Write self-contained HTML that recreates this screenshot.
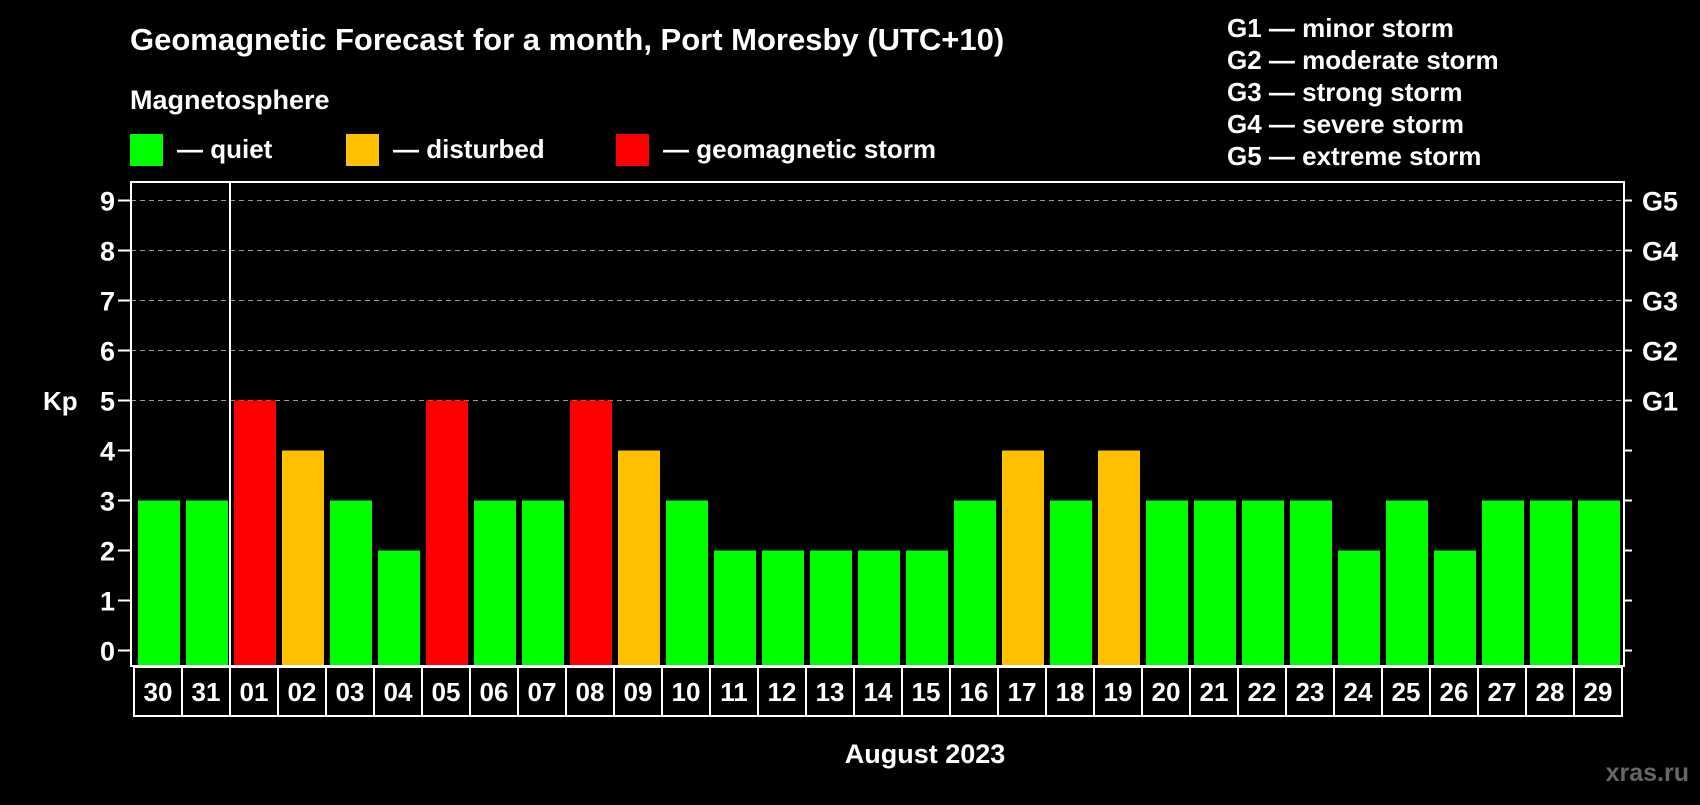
<!DOCTYPE html>
<html><head><meta charset="utf-8"><style>
body{margin:0;background:#000;width:1700px;height:800px;overflow:hidden;font-family:"Liberation Sans",sans-serif}
</style></head><body>
<svg width="1700" height="800" xmlns="http://www.w3.org/2000/svg" font-family="Liberation Sans, sans-serif" font-weight="bold" fill="#fff">
<text x="130" y="50" font-size="31">Geomagnetic Forecast for a month, Port Moresby (UTC+10)</text>
<text x="130" y="109" font-size="27">Magnetosphere</text>
<rect x="130" y="134" width="33" height="32" fill="#00ff00"/>
<text x="177" y="158" font-size="26">— quiet</text>
<rect x="346" y="134" width="33" height="32" fill="#ffc000"/>
<text x="393" y="158" font-size="26">— disturbed</text>
<rect x="616" y="134" width="33" height="32" fill="#ff0000"/>
<text x="663" y="158" font-size="26">— geomagnetic storm</text>
<g font-size="26">
<text x="1227" y="37">G1 — minor storm</text>
<text x="1227" y="69">G2 — moderate storm</text>
<text x="1227" y="101">G3 — strong storm</text>
<text x="1227" y="133">G4 — severe storm</text>
<text x="1227" y="165">G5 — extreme storm</text>
</g>
<g id="grid"></g><g id="bars"></g><g id="axes"></g>
<text x="43" y="410" font-size="26">Kp</text>
<text x="925" y="763" font-size="27" text-anchor="middle">August 2023</text>
<text x="1689" y="781" font-size="25" text-anchor="end" fill="#666">xras.ru</text>
</svg>
<script>
const days=["30","31","01","02","03","04","05","06","07","08","09","10","11","12","13","14","15","16","17","18","19","20","21","22","23","24","25","26","27","28","29"];
const kp=[3,3,5,4,3,2,5,3,3,5,4,3,2,2,2,2,2,3,4,3,4,3,3,3,3,2,3,2,3,3,3];
const yTicks=[0,1,2,3,4,5,6,7,8,9];
const gLabels=["","","","","","G1","G2","G3","G4","G5"];
const NS="http://www.w3.org/2000/svg";
const L=131,R=1624,T=182,B=666,x0=134,pitch=48,bw=42;
const y=v=>650.5-v*50;
const xs=i=>x0+i*pitch;
function mk(tag,a,parent,txt){const e=document.createElementNS(NS,tag);for(const k in a)e.setAttribute(k,a[k]);if(txt!==undefined)e.textContent=txt;parent.appendChild(e);return e;}
const grid=document.getElementById('grid'),bars=document.getElementById('bars'),axes=document.getElementById('axes');
yTicks.forEach(v=>{
 if(v>=5){const g=mk('line',{x1:L,x2:R,y1:y(v),y2:y(v),stroke:'#999','stroke-dasharray':'5,4','stroke-width':1},grid);
 
 }
 const t=mk('line',{x1:118,x2:L,y1:y(v),y2:y(v),stroke:'#fff','stroke-width':2},axes);
 
 
 const t2=mk('line',{x1:R,x2:R+8,y1:y(v),y2:y(v),stroke:'#fff','stroke-width':2},axes);
 
 
 const lb=mk('text',{x:115,y:y(v)+10,'font-size':27,'text-anchor':'end'},axes,String(v));
 
 
 if(gLabels[v]){const gl=mk('text',{x:1642,y:y(v)+10,'font-size':27},axes,gLabels[v]);
 
 }
});
kp.forEach((v,i)=>{
 const c=v>=5?'#ff0000':v>=4?'#ffc000':'#00ff00';
 const b=mk('rect',{x:xs(i)+4,y:y(v),width:bw,height:B-y(v),fill:c},bars);
 
 
 const cell=mk('rect',{x:xs(i),y:B+1,width:pitch,height:49,fill:'none',stroke:'#fff','stroke-width':2},axes);
 
 
 const dl=mk('text',{x:xs(i)+pitch/2,y:B+35,'font-size':26,'text-anchor':'middle'},axes,days[i]);
 
 
});
const fr=mk('rect',{x:L,y:T,width:R-L,height:B-T,fill:'none',stroke:'#fff','stroke-width':2},axes);


const ml=mk('line',{x1:xs(2),x2:xs(2),y1:T,y2:B,stroke:'#fff','stroke-width':2},axes);


</script>
</body></html>
